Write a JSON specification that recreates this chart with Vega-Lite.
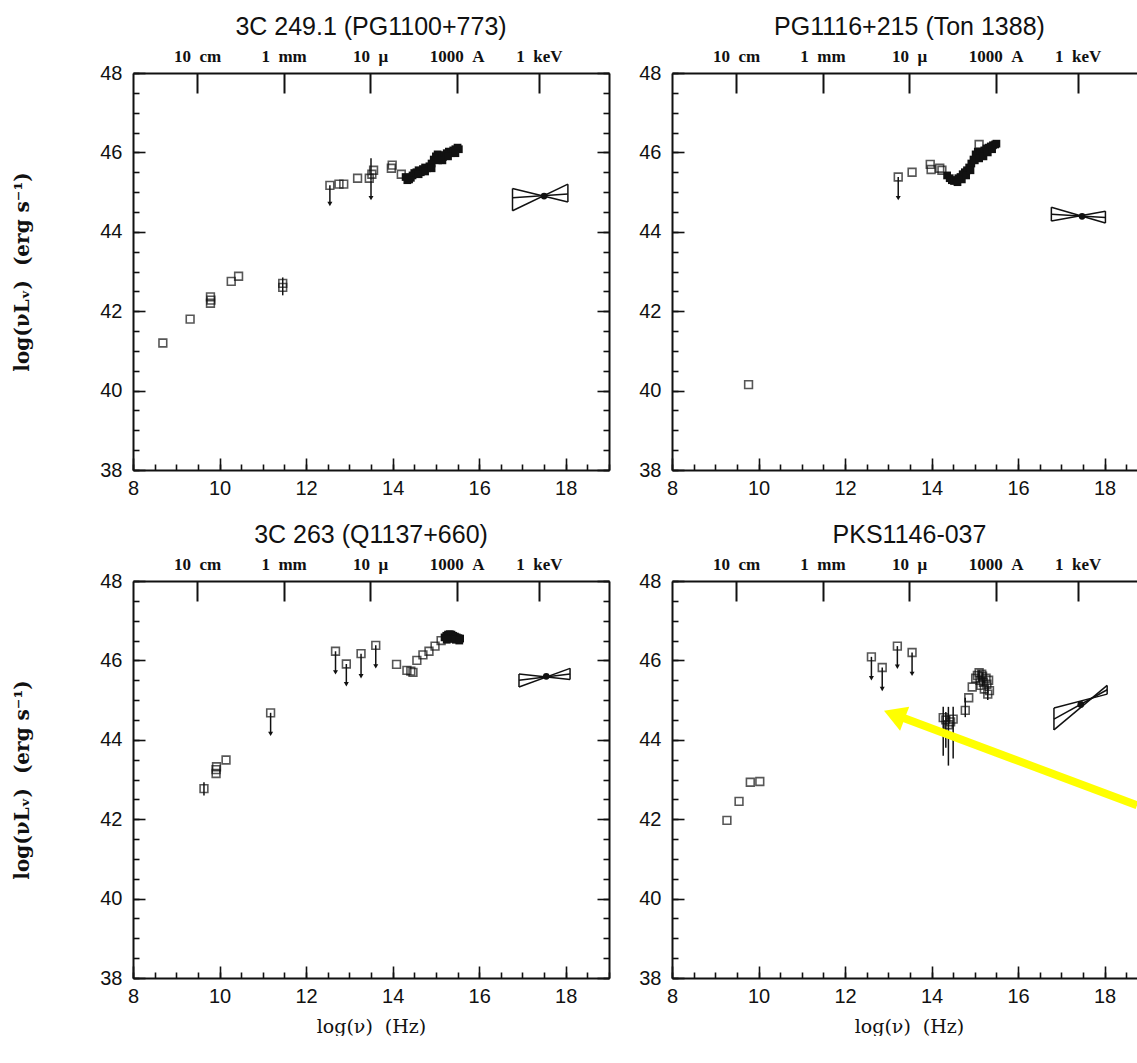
{
"$schema": "https://vega.github.io/schema/vega-lite/v6.json",
"background": "white",
"padding": {"left": 12, "top": 15, "right": 0, "bottom": 0},
"datasets": {
"pts": [
{"p":"A","k":"pt","x":8.69,"y":41.2},{"p":"A","k":"pt","x":9.32,"y":41.8},{"p":"A","k":"pt","x":9.79,"y":42.2},{"p":"A","k":"pt","x":9.8,"y":42.28},{"p":"A","k":"pt","x":9.79,"y":42.36},{"p":"A","k":"pt","x":10.27,"y":42.75},{"p":"A","k":"pt","x":10.44,"y":42.88},{"p":"A","k":"pt","x":11.46,"y":42.6},{"p":"A","k":"pt","x":11.46,"y":42.7},{"p":"A","k":"pt","x":12.55,"y":45.17},{"p":"A","k":"pt","x":12.76,"y":45.2},{"p":"A","k":"pt","x":12.87,"y":45.2},{"p":"A","k":"pt","x":13.19,"y":45.35},{"p":"A","k":"pt","x":13.46,"y":45.35},{"p":"A","k":"pt","x":13.52,"y":45.45},{"p":"A","k":"pt","x":13.56,"y":45.55},{"p":"A","k":"pt","x":13.97,"y":45.6},{"p":"A","k":"pt","x":13.99,"y":45.68},{"p":"A","k":"pt","x":14.2,"y":45.45},
{"p":"A","k":"err","x":11.46,"lo":42.4,"hi":42.85},{"p":"A","k":"err","x":13.5,"lo":45.3,"hi":45.85},{"p":"A","k":"ul","x":12.55,"lo":44.7,"hi":45.17},{"p":"A","k":"ul","x":13.5,"lo":44.85,"hi":45.3},
{"p":"A","k":"band","x":14.3,"y":45.38},{"p":"A","k":"band","x":14.34,"y":45.3},{"p":"A","k":"band","x":14.38,"y":45.32},{"p":"A","k":"band","x":14.42,"y":45.36},{"p":"A","k":"band","x":14.46,"y":45.42},{"p":"A","k":"band","x":14.5,"y":45.48},{"p":"A","k":"band","x":14.55,"y":45.5},{"p":"A","k":"band","x":14.6,"y":45.55},{"p":"A","k":"band","x":14.65,"y":45.5},{"p":"A","k":"band","x":14.7,"y":45.58},{"p":"A","k":"band","x":14.75,"y":45.62},{"p":"A","k":"band","x":14.8,"y":45.6},{"p":"A","k":"band","x":14.85,"y":45.65},{"p":"A","k":"band","x":14.9,"y":45.72},{"p":"A","k":"band","x":14.95,"y":45.82},{"p":"A","k":"band","x":15.0,"y":45.9},{"p":"A","k":"band","x":15.04,"y":45.95},{"p":"A","k":"band","x":15.08,"y":45.93},{"p":"A","k":"band","x":15.12,"y":45.85},{"p":"A","k":"band","x":15.16,"y":45.88},{"p":"A","k":"band","x":15.2,"y":45.92},{"p":"A","k":"band","x":15.25,"y":45.98},{"p":"A","k":"band","x":15.3,"y":46.02},{"p":"A","k":"band","x":15.35,"y":45.98},{"p":"A","k":"band","x":15.4,"y":46.05},{"p":"A","k":"band","x":15.45,"y":46.08},{"p":"A","k":"band","x":15.5,"y":46.12},{"p":"A","k":"band","x":15.53,"y":46.08},{"p":"A","k":"band","x":14.6,"y":45.45},{"p":"A","k":"band","x":14.75,"y":45.52},{"p":"A","k":"band","x":14.9,"y":45.6},{"p":"A","k":"band","x":15.05,"y":45.8},{"p":"A","k":"band","x":15.15,"y":45.8},{"p":"A","k":"band","x":15.28,"y":45.9},{"p":"A","k":"band","x":15.45,"y":45.98},
{"p":"B","k":"pt","x":9.77,"y":40.15},{"p":"B","k":"pt","x":13.23,"y":45.38},{"p":"B","k":"pt","x":13.55,"y":45.5},{"p":"B","k":"pt","x":13.97,"y":45.7},{"p":"B","k":"pt","x":13.99,"y":45.57},{"p":"B","k":"pt","x":14.19,"y":45.6},{"p":"B","k":"pt","x":14.24,"y":45.55},{"p":"B","k":"pt","x":15.1,"y":46.2},
{"p":"B","k":"ul","x":13.23,"lo":44.85,"hi":45.38},
{"p":"B","k":"band","x":14.36,"y":45.42},{"p":"B","k":"band","x":14.42,"y":45.35},{"p":"B","k":"band","x":14.47,"y":45.3},{"p":"B","k":"band","x":14.52,"y":45.28},{"p":"B","k":"band","x":14.57,"y":45.3},{"p":"B","k":"band","x":14.62,"y":45.35},{"p":"B","k":"band","x":14.67,"y":45.38},{"p":"B","k":"band","x":14.72,"y":45.45},{"p":"B","k":"band","x":14.77,"y":45.5},{"p":"B","k":"band","x":14.82,"y":45.55},{"p":"B","k":"band","x":14.87,"y":45.62},{"p":"B","k":"band","x":14.92,"y":45.72},{"p":"B","k":"band","x":14.97,"y":45.82},{"p":"B","k":"band","x":15.02,"y":45.95},{"p":"B","k":"band","x":15.07,"y":46.02},{"p":"B","k":"band","x":15.12,"y":45.98},{"p":"B","k":"band","x":15.17,"y":45.95},{"p":"B","k":"band","x":15.22,"y":46.05},{"p":"B","k":"band","x":15.27,"y":46.1},{"p":"B","k":"band","x":15.32,"y":46.12},{"p":"B","k":"band","x":15.37,"y":46.15},{"p":"B","k":"band","x":15.42,"y":46.18},{"p":"B","k":"band","x":15.47,"y":46.2},{"p":"B","k":"band","x":15.5,"y":46.22},{"p":"B","k":"band","x":14.6,"y":45.25},{"p":"B","k":"band","x":14.7,"y":45.32},{"p":"B","k":"band","x":14.8,"y":45.42},{"p":"B","k":"band","x":14.9,"y":45.55},{"p":"B","k":"band","x":15.0,"y":45.8},{"p":"B","k":"band","x":15.1,"y":45.85},{"p":"B","k":"band","x":15.2,"y":45.9},{"p":"B","k":"band","x":15.3,"y":46.0},{"p":"B","k":"band","x":15.4,"y":46.08},
{"p":"C","k":"pt","x":9.64,"y":42.77},{"p":"C","k":"pt","x":9.92,"y":43.15},{"p":"C","k":"pt","x":9.92,"y":43.25},{"p":"C","k":"pt","x":9.93,"y":43.32},{"p":"C","k":"pt","x":10.15,"y":43.49},{"p":"C","k":"pt","x":11.18,"y":44.68},{"p":"C","k":"pt","x":12.68,"y":46.23},{"p":"C","k":"pt","x":12.93,"y":45.91},{"p":"C","k":"pt","x":13.27,"y":46.17},{"p":"C","k":"pt","x":13.61,"y":46.38},{"p":"C","k":"pt","x":14.09,"y":45.9},{"p":"C","k":"pt","x":14.33,"y":45.75},{"p":"C","k":"pt","x":14.42,"y":45.73},{"p":"C","k":"pt","x":14.47,"y":45.7},{"p":"C","k":"pt","x":14.56,"y":46.0},{"p":"C","k":"pt","x":14.7,"y":46.14},{"p":"C","k":"pt","x":14.84,"y":46.23},{"p":"C","k":"pt","x":14.98,"y":46.36},{"p":"C","k":"pt","x":15.12,"y":46.5},
{"p":"C","k":"err","x":9.64,"lo":42.6,"hi":42.93},{"p":"C","k":"ul","x":11.18,"lo":44.15,"hi":44.68},{"p":"C","k":"ul","x":12.68,"lo":45.7,"hi":46.23},{"p":"C","k":"ul","x":12.93,"lo":45.4,"hi":45.91},{"p":"C","k":"ul","x":13.27,"lo":45.6,"hi":46.17},{"p":"C","k":"ul","x":13.61,"lo":45.85,"hi":46.38},
{"p":"C","k":"band","x":15.2,"y":46.58},{"p":"C","k":"band","x":15.24,"y":46.62},{"p":"C","k":"band","x":15.28,"y":46.65},{"p":"C","k":"band","x":15.32,"y":46.66},{"p":"C","k":"band","x":15.36,"y":46.65},{"p":"C","k":"band","x":15.4,"y":46.62},{"p":"C","k":"band","x":15.44,"y":46.6},{"p":"C","k":"band","x":15.48,"y":46.58},{"p":"C","k":"band","x":15.52,"y":46.56},{"p":"C","k":"band","x":15.56,"y":46.55},{"p":"C","k":"band","x":15.3,"y":46.56},{"p":"C","k":"band","x":15.38,"y":46.54},{"p":"C","k":"band","x":15.46,"y":46.52},{"p":"C","k":"band","x":15.54,"y":46.5},{"p":"C","k":"band","x":15.25,"y":46.52},
{"p":"D","k":"pt","x":9.27,"y":41.97},{"p":"D","k":"pt","x":9.55,"y":42.45},{"p":"D","k":"pt","x":9.81,"y":42.93},{"p":"D","k":"pt","x":10.03,"y":42.95},{"p":"D","k":"pt","x":12.61,"y":46.09},{"p":"D","k":"pt","x":12.86,"y":45.82},{"p":"D","k":"pt","x":13.21,"y":46.36},{"p":"D","k":"pt","x":13.55,"y":46.2},{"p":"D","k":"pt","x":14.27,"y":44.56},{"p":"D","k":"pt","x":14.39,"y":44.38},{"p":"D","k":"pt","x":14.5,"y":44.52},{"p":"D","k":"pt","x":14.33,"y":44.5},{"p":"D","k":"pt","x":14.44,"y":44.45},{"p":"D","k":"pt","x":14.78,"y":44.74},{"p":"D","k":"pt","x":14.86,"y":45.06},{"p":"D","k":"pt","x":14.94,"y":45.33},{"p":"D","k":"pt","x":15.02,"y":45.55},{"p":"D","k":"pt","x":15.1,"y":45.69},{"p":"D","k":"pt","x":15.14,"y":45.37},{"p":"D","k":"pt","x":15.18,"y":45.6},{"p":"D","k":"pt","x":15.22,"y":45.28},{"p":"D","k":"pt","x":15.26,"y":45.55},{"p":"D","k":"pt","x":15.3,"y":45.15},{"p":"D","k":"pt","x":15.34,"y":45.24},{"p":"D","k":"pt","x":15.12,"y":45.5},{"p":"D","k":"pt","x":15.2,"y":45.45},{"p":"D","k":"pt","x":15.28,"y":45.4},{"p":"D","k":"pt","x":15.06,"y":45.62},{"p":"D","k":"pt","x":15.16,"y":45.65},{"p":"D","k":"pt","x":15.32,"y":45.5},
{"p":"D","k":"err","x":14.27,"lo":43.6,"hi":44.83},{"p":"D","k":"err","x":14.39,"lo":43.35,"hi":44.83},{"p":"D","k":"err","x":14.5,"lo":43.53,"hi":44.83},{"p":"D","k":"err","x":14.33,"lo":43.8,"hi":44.7},{"p":"D","k":"err","x":14.78,"lo":44.57,"hi":45.06},{"p":"D","k":"err","x":15.1,"lo":45.45,"hi":45.75},{"p":"D","k":"err","x":15.18,"lo":45.35,"hi":45.7},{"p":"D","k":"err","x":15.3,"lo":45.0,"hi":45.35},
{"p":"D","k":"ul","x":12.61,"lo":45.55,"hi":46.09},{"p":"D","k":"ul","x":12.86,"lo":45.28,"hi":45.82},{"p":"D","k":"ul","x":13.21,"lo":45.84,"hi":46.36},{"p":"D","k":"ul","x":13.55,"lo":45.66,"hi":46.2}
],
"bow": [
{"p":"A","s":1,"x":16.77,"y":44.53},{"p":"A","s":1,"x":18.05,"y":45.2},{"p":"A","s":2,"x":16.77,"y":45.09},{"p":"A","s":2,"x":18.05,"y":44.75},{"p":"A","s":3,"x":16.77,"y":44.53},{"p":"A","s":3,"x":16.77,"y":45.09},{"p":"A","s":4,"x":18.05,"y":44.75},{"p":"A","s":4,"x":18.05,"y":45.2},{"p":"A","s":5,"x":16.77,"y":44.86},{"p":"A","s":5,"x":18.05,"y":44.95},
{"p":"B","s":1,"x":16.77,"y":44.62},{"p":"B","s":1,"x":18.02,"y":44.22},{"p":"B","s":2,"x":16.77,"y":44.27},{"p":"B","s":2,"x":18.02,"y":44.52},{"p":"B","s":3,"x":16.77,"y":44.27},{"p":"B","s":3,"x":16.77,"y":44.62},{"p":"B","s":4,"x":18.02,"y":44.22},{"p":"B","s":4,"x":18.02,"y":44.52},{"p":"B","s":5,"x":16.77,"y":44.44},{"p":"B","s":5,"x":18.02,"y":44.36},
{"p":"C","s":1,"x":16.92,"y":45.33},{"p":"C","s":1,"x":18.1,"y":45.8},{"p":"C","s":2,"x":16.92,"y":45.66},{"p":"C","s":2,"x":18.1,"y":45.52},{"p":"C","s":3,"x":16.92,"y":45.33},{"p":"C","s":3,"x":16.92,"y":45.66},{"p":"C","s":4,"x":18.1,"y":45.52},{"p":"C","s":4,"x":18.1,"y":45.8},{"p":"C","s":5,"x":16.92,"y":45.5},{"p":"C","s":5,"x":18.1,"y":45.66},
{"p":"D","s":1,"x":16.83,"y":44.25},{"p":"D","s":1,"x":18.06,"y":45.37},{"p":"D","s":2,"x":16.83,"y":44.8},{"p":"D","s":2,"x":18.06,"y":45.15},{"p":"D","s":3,"x":16.83,"y":44.25},{"p":"D","s":3,"x":16.83,"y":44.8},{"p":"D","s":4,"x":18.06,"y":45.15},{"p":"D","s":4,"x":18.06,"y":45.37},{"p":"D","s":5,"x":16.83,"y":44.52},{"p":"D","s":5,"x":18.06,"y":45.26}
],
"bc": [{"p":"A","x":17.5,"y":44.9},{"p":"B","x":17.48,"y":44.39},{"p":"C","x":17.55,"y":45.6},{"p":"D","x":17.45,"y":44.89}],
"arr": [{"part":"shaft","x":13.2,"y":44.61},{"part":"shaft","x":18.75,"y":42.35},{"part":"head","x":13.14,"y":44.63}]
},
"columns": 2,
"spacing": {"row": 111, "column": 63},
"bounds": "flush",
"concat": [
{
"width": 476, "height": 397,
"title": {"text": "3C 249.1 (PG1100+773)", "offset": 7},
"resolve": {"axis": {"x": "independent", "y": "independent"}},
"layer": [
{"data": {"name": "pts"}, "transform": [{"filter": "datum.p === 'A' && datum.k === 'pt'"}],
 "mark": {"type": "point", "shape": "square", "filled": false, "size": 60, "strokeWidth": 1.6, "color": "#111"},
 "encoding": {
  "x": {"field": "x", "type": "quantitative", "scale": {"domain": [8, 19], "nice": false, "zero": false},
   "axis": {"orient": "bottom", "values": [8,8.5,9,9.5,10,10.5,11,11.5,12,12.5,13,13.5,14,14.5,15,15.5,16,16.5,17,17.5,18,18.5,19], "tickSize": -6, "labelExpr": "datum.value % 2 === 0 ? '' + datum.value : ''", "labelPadding": 14, "labelBaseline": "top", "title": null}},
  "y": {"field": "y", "type": "quantitative", "scale": {"domain": [38, 48], "nice": false, "zero": false},
   "axis": {"orient": "left", "values": [38,38.5,39,39.5,40,40.5,41,41.5,42,42.5,43,43.5,44,44.5,45,45.5,46,46.5,47,47.5,48], "tickSize": -6, "labelExpr": "datum.value % 2 === 0 ? '' + datum.value : ''", "labelPadding": 17, "title": "log(νLᵥ)\u00a0\u00a0(erg s⁻¹)", "titlePadding": 67}}}},
{"data": {"name": "pts"}, "transform": [{"filter": "datum.p === 'A' && datum.k === 'band'"}],
 "mark": {"type": "point", "shape": "square", "filled": true, "size": 60, "color": "#111", "opacity": 1},
 "encoding": {
  "x": {"field": "x", "type": "quantitative", "scale": {"domain": [8, 19], "nice": false, "zero": false},
   "axis": {"orient": "bottom", "values": [8,10,12,14,16,18], "tickSize": -12, "labels": false, "domain": false, "title": null}},
  "y": {"field": "y", "type": "quantitative", "scale": {"domain": [38, 48], "nice": false, "zero": false},
   "axis": {"orient": "left", "values": [38,40,42,44,46,48], "tickSize": -12, "labels": false, "domain": false, "title": null}}}},
{"data": {"name": "pts"}, "transform": [{"filter": "datum.p === 'A' && (datum.k === 'ul' || datum.k === 'err')"}],
 "mark": {"type": "rule", "color": "#111", "strokeWidth": 1.5},
 "encoding": {
  "x": {"field": "x", "type": "quantitative", "scale": {"domain": [8, 19], "nice": false, "zero": false},
   "axis": {"orient": "top", "values": [9.48,11.48,13.48,15.48,17.38], "ticks": true, "tickSize": -20, "tickWidth": 2, "tickColor": "#111", "zindex": 2, "labelExpr": "datum.value < 10 ? '10\u00a0\u00a0cm' : datum.value < 12 ? '1\u00a0\u00a0mm' : datum.value < 14 ? '10\u00a0\u00a0μ' : datum.value < 16 ? '1000\u00a0\u00a0A' : '1\u00a0\u00a0keV'", "labelFont": "Liberation Serif", "labelFontWeight": "bold", "labelFontSize": 17, "labelBaseline": "alphabetic", "labelPadding": 32, "title": null}},
  "y": {"field": "lo", "type": "quantitative", "scale": {"domain": [38, 48], "nice": false, "zero": false},
   "axis": {"orient": "right", "values": [38,38.5,39,39.5,40,40.5,41,41.5,42,42.5,43,43.5,44,44.5,45,45.5,46,46.5,47,47.5,48], "tickSize": -6, "labels": false, "title": null}},
  "y2": {"field": "hi"}}},
{"data": {"name": "pts"}, "transform": [{"filter": "datum.p === 'A' && datum.k === 'ul'"}],
 "mark": {"type": "point", "shape": "triangle-down", "filled": true, "size": 25, "color": "#111", "opacity": 1},
 "encoding": {
  "x": {"field": "x", "type": "quantitative", "scale": {"domain": [8, 19], "nice": false, "zero": false}, "axis": null},
  "y": {"field": "lo", "type": "quantitative", "scale": {"domain": [38, 48], "nice": false, "zero": false},
   "axis": {"orient": "right", "values": [38,40,42,44,46,48], "tickSize": -12, "labels": false, "domain": false, "title": null}}}},
{"data": {"name": "bow"}, "transform": [{"filter": "datum.p === 'A'"}],
 "mark": {"type": "line", "color": "#111", "strokeWidth": 1.5},
 "encoding": {
  "x": {"field": "x", "type": "quantitative", "scale": {"domain": [8, 19], "nice": false, "zero": false}, "axis": null},
  "y": {"field": "y", "type": "quantitative", "scale": {"domain": [38, 48], "nice": false, "zero": false}, "axis": null},
  "detail": {"field": "s", "type": "nominal"}}},
{"data": {"name": "bc"}, "transform": [{"filter": "datum.p === 'A'"}],
 "mark": {"type": "point", "shape": "circle", "filled": true, "size": 45, "color": "#111", "opacity": 1},
 "encoding": {
  "x": {"field": "x", "type": "quantitative", "scale": {"domain": [8, 19], "nice": false, "zero": false}, "axis": null},
  "y": {"field": "y", "type": "quantitative", "scale": {"domain": [38, 48], "nice": false, "zero": false}, "axis": null}}}
]
},
{
"width": 465, "height": 397,
"title": {"text": "PG1116+215 (Ton 1388)", "offset": 7, "dx": 5},
"resolve": {"axis": {"x": "independent", "y": "independent"}},
"layer": [
{"data": {"name": "pts"}, "transform": [{"filter": "datum.p === 'B' && datum.k === 'pt'"}],
 "mark": {"type": "point", "shape": "square", "filled": false, "size": 60, "strokeWidth": 1.6, "color": "#111"},
 "encoding": {
  "x": {"field": "x", "type": "quantitative", "scale": {"domain": [8, 18.75], "nice": false, "zero": false},
   "axis": {"orient": "bottom", "values": [8,8.5,9,9.5,10,10.5,11,11.5,12,12.5,13,13.5,14,14.5,15,15.5,16,16.5,17,17.5,18,18.5], "tickSize": -6, "labelExpr": "datum.value % 2 === 0 ? '' + datum.value : ''", "labelPadding": 14, "labelBaseline": "top", "title": null}},
  "y": {"field": "y", "type": "quantitative", "scale": {"domain": [38, 48], "nice": false, "zero": false},
   "axis": {"orient": "left", "values": [38,38.5,39,39.5,40,40.5,41,41.5,42,42.5,43,43.5,44,44.5,45,45.5,46,46.5,47,47.5,48], "tickSize": -6, "labelExpr": "datum.value % 2 === 0 ? '' + datum.value : ''", "labelPadding": 17, "title": null}}}},
{"data": {"name": "pts"}, "transform": [{"filter": "datum.p === 'B' && datum.k === 'band'"}],
 "mark": {"type": "point", "shape": "square", "filled": true, "size": 60, "color": "#111", "opacity": 1},
 "encoding": {
  "x": {"field": "x", "type": "quantitative", "scale": {"domain": [8, 18.75], "nice": false, "zero": false},
   "axis": {"orient": "bottom", "values": [8,10,12,14,16,18], "tickSize": -12, "labels": false, "domain": false, "title": null}},
  "y": {"field": "y", "type": "quantitative", "scale": {"domain": [38, 48], "nice": false, "zero": false},
   "axis": {"orient": "left", "values": [38,40,42,44,46,48], "tickSize": -12, "labels": false, "domain": false, "title": null}}}},
{"data": {"name": "pts"}, "transform": [{"filter": "datum.p === 'B' && (datum.k === 'ul' || datum.k === 'err')"}],
 "mark": {"type": "rule", "color": "#111", "strokeWidth": 1.5},
 "encoding": {
  "x": {"field": "x", "type": "quantitative", "scale": {"domain": [8, 18.75], "nice": false, "zero": false},
   "axis": {"orient": "top", "values": [9.48,11.48,13.48,15.48,17.38], "ticks": true, "tickSize": -20, "tickWidth": 2, "tickColor": "#111", "zindex": 2, "labelExpr": "datum.value < 10 ? '10\u00a0\u00a0cm' : datum.value < 12 ? '1\u00a0\u00a0mm' : datum.value < 14 ? '10\u00a0\u00a0μ' : datum.value < 16 ? '1000\u00a0\u00a0A' : '1\u00a0\u00a0keV'", "labelFont": "Liberation Serif", "labelFontWeight": "bold", "labelFontSize": 17, "labelBaseline": "alphabetic", "labelPadding": 32, "title": null}},
  "y": {"field": "lo", "type": "quantitative", "scale": {"domain": [38, 48], "nice": false, "zero": false}, "axis": null},
  "y2": {"field": "hi"}}},
{"data": {"name": "pts"}, "transform": [{"filter": "datum.p === 'B' && datum.k === 'ul'"}],
 "mark": {"type": "point", "shape": "triangle-down", "filled": true, "size": 25, "color": "#111", "opacity": 1},
 "encoding": {
  "x": {"field": "x", "type": "quantitative", "scale": {"domain": [8, 18.75], "nice": false, "zero": false}, "axis": null},
  "y": {"field": "lo", "type": "quantitative", "scale": {"domain": [38, 48], "nice": false, "zero": false}, "axis": null}}},
{"data": {"name": "bow"}, "transform": [{"filter": "datum.p === 'B'"}],
 "mark": {"type": "line", "color": "#111", "strokeWidth": 1.5},
 "encoding": {
  "x": {"field": "x", "type": "quantitative", "scale": {"domain": [8, 18.75], "nice": false, "zero": false}, "axis": null},
  "y": {"field": "y", "type": "quantitative", "scale": {"domain": [38, 48], "nice": false, "zero": false}, "axis": null},
  "detail": {"field": "s", "type": "nominal"}}},
{"data": {"name": "bc"}, "transform": [{"filter": "datum.p === 'B'"}],
 "mark": {"type": "point", "shape": "circle", "filled": true, "size": 45, "color": "#111", "opacity": 1},
 "encoding": {
  "x": {"field": "x", "type": "quantitative", "scale": {"domain": [8, 18.75], "nice": false, "zero": false}, "axis": null},
  "y": {"field": "y", "type": "quantitative", "scale": {"domain": [38, 48], "nice": false, "zero": false}, "axis": null}}}
]
},
{
"width": 476, "height": 397,
"title": {"text": "3C 263 (Q1137+660)", "offset": 7},
"resolve": {"axis": {"x": "independent", "y": "independent"}},
"layer": [
{"data": {"name": "pts"}, "transform": [{"filter": "datum.p === 'C' && datum.k === 'pt'"}],
 "mark": {"type": "point", "shape": "square", "filled": false, "size": 60, "strokeWidth": 1.6, "color": "#111"},
 "encoding": {
  "x": {"field": "x", "type": "quantitative", "scale": {"domain": [8, 19], "nice": false, "zero": false},
   "axis": {"orient": "bottom", "values": [8,8.5,9,9.5,10,10.5,11,11.5,12,12.5,13,13.5,14,14.5,15,15.5,16,16.5,17,17.5,18,18.5,19], "tickSize": -6, "labelExpr": "datum.value % 2 === 0 ? '' + datum.value : ''", "labelPadding": 14, "labelBaseline": "top", "title": "log(ν)\u00a0\u00a0(Hz)", "titleFont": "DejaVu Serif", "titleFontWeight": "normal", "titleFontSize": 19, "titlePadding": 11}},
  "y": {"field": "y", "type": "quantitative", "scale": {"domain": [38, 48], "nice": false, "zero": false},
   "axis": {"orient": "left", "values": [38,38.5,39,39.5,40,40.5,41,41.5,42,42.5,43,43.5,44,44.5,45,45.5,46,46.5,47,47.5,48], "tickSize": -6, "labelExpr": "datum.value % 2 === 0 ? '' + datum.value : ''", "labelPadding": 17, "title": "log(νLᵥ)\u00a0\u00a0(erg s⁻¹)", "titlePadding": 67}}}},
{"data": {"name": "pts"}, "transform": [{"filter": "datum.p === 'C' && datum.k === 'band'"}],
 "mark": {"type": "point", "shape": "square", "filled": true, "size": 60, "color": "#111", "opacity": 1},
 "encoding": {
  "x": {"field": "x", "type": "quantitative", "scale": {"domain": [8, 19], "nice": false, "zero": false},
   "axis": {"orient": "bottom", "values": [8,10,12,14,16,18], "tickSize": -12, "labels": false, "domain": false, "title": null}},
  "y": {"field": "y", "type": "quantitative", "scale": {"domain": [38, 48], "nice": false, "zero": false},
   "axis": {"orient": "left", "values": [38,40,42,44,46,48], "tickSize": -12, "labels": false, "domain": false, "title": null}}}},
{"data": {"name": "pts"}, "transform": [{"filter": "datum.p === 'C' && (datum.k === 'ul' || datum.k === 'err')"}],
 "mark": {"type": "rule", "color": "#111", "strokeWidth": 1.5},
 "encoding": {
  "x": {"field": "x", "type": "quantitative", "scale": {"domain": [8, 19], "nice": false, "zero": false},
   "axis": {"orient": "top", "values": [9.48,11.48,13.48,15.48,17.38], "ticks": true, "tickSize": -20, "tickWidth": 2, "tickColor": "#111", "zindex": 2, "labelExpr": "datum.value < 10 ? '10\u00a0\u00a0cm' : datum.value < 12 ? '1\u00a0\u00a0mm' : datum.value < 14 ? '10\u00a0\u00a0μ' : datum.value < 16 ? '1000\u00a0\u00a0A' : '1\u00a0\u00a0keV'", "labelFont": "Liberation Serif", "labelFontWeight": "bold", "labelFontSize": 17, "labelBaseline": "alphabetic", "labelPadding": 32, "title": null}},
  "y": {"field": "lo", "type": "quantitative", "scale": {"domain": [38, 48], "nice": false, "zero": false},
   "axis": {"orient": "right", "values": [38,38.5,39,39.5,40,40.5,41,41.5,42,42.5,43,43.5,44,44.5,45,45.5,46,46.5,47,47.5,48], "tickSize": -6, "labels": false, "title": null}},
  "y2": {"field": "hi"}}},
{"data": {"name": "pts"}, "transform": [{"filter": "datum.p === 'C' && datum.k === 'ul'"}],
 "mark": {"type": "point", "shape": "triangle-down", "filled": true, "size": 25, "color": "#111", "opacity": 1},
 "encoding": {
  "x": {"field": "x", "type": "quantitative", "scale": {"domain": [8, 19], "nice": false, "zero": false}, "axis": null},
  "y": {"field": "lo", "type": "quantitative", "scale": {"domain": [38, 48], "nice": false, "zero": false},
   "axis": {"orient": "right", "values": [38,40,42,44,46,48], "tickSize": -12, "labels": false, "domain": false, "title": null}}}},
{"data": {"name": "bow"}, "transform": [{"filter": "datum.p === 'C'"}],
 "mark": {"type": "line", "color": "#111", "strokeWidth": 1.5},
 "encoding": {
  "x": {"field": "x", "type": "quantitative", "scale": {"domain": [8, 19], "nice": false, "zero": false}, "axis": null},
  "y": {"field": "y", "type": "quantitative", "scale": {"domain": [38, 48], "nice": false, "zero": false}, "axis": null},
  "detail": {"field": "s", "type": "nominal"}}},
{"data": {"name": "bc"}, "transform": [{"filter": "datum.p === 'C'"}],
 "mark": {"type": "point", "shape": "circle", "filled": true, "size": 45, "color": "#111", "opacity": 1},
 "encoding": {
  "x": {"field": "x", "type": "quantitative", "scale": {"domain": [8, 19], "nice": false, "zero": false}, "axis": null},
  "y": {"field": "y", "type": "quantitative", "scale": {"domain": [38, 48], "nice": false, "zero": false}, "axis": null}}}
]
},
{
"width": 465, "height": 397,
"title": {"text": "PKS1146-037", "offset": 7, "dx": 5},
"resolve": {"axis": {"x": "independent", "y": "independent"}},
"layer": [
{"data": {"name": "pts"}, "transform": [{"filter": "datum.p === 'D' && datum.k === 'pt'"}],
 "mark": {"type": "point", "shape": "square", "filled": false, "size": 60, "strokeWidth": 1.6, "color": "#111"},
 "encoding": {
  "x": {"field": "x", "type": "quantitative", "scale": {"domain": [8, 18.75], "nice": false, "zero": false},
   "axis": {"orient": "bottom", "values": [8,8.5,9,9.5,10,10.5,11,11.5,12,12.5,13,13.5,14,14.5,15,15.5,16,16.5,17,17.5,18,18.5], "tickSize": -6, "labelExpr": "datum.value % 2 === 0 ? '' + datum.value : ''", "labelPadding": 14, "labelBaseline": "top", "title": "log(ν)\u00a0\u00a0(Hz)", "titleFont": "DejaVu Serif", "titleFontWeight": "normal", "titleFontSize": 19, "titlePadding": 11, "titleX": 237}},
  "y": {"field": "y", "type": "quantitative", "scale": {"domain": [38, 48], "nice": false, "zero": false},
   "axis": {"orient": "left", "values": [38,38.5,39,39.5,40,40.5,41,41.5,42,42.5,43,43.5,44,44.5,45,45.5,46,46.5,47,47.5,48], "tickSize": -6, "labelExpr": "datum.value % 2 === 0 ? '' + datum.value : ''", "labelPadding": 17, "title": null}}}},
{"data": {"name": "pts"}, "transform": [{"filter": "datum.p === 'D' && datum.k === 'band'"}],
 "mark": {"type": "point", "shape": "square", "filled": true, "size": 60, "color": "#111", "opacity": 1},
 "encoding": {
  "x": {"field": "x", "type": "quantitative", "scale": {"domain": [8, 18.75], "nice": false, "zero": false},
   "axis": {"orient": "bottom", "values": [8,10,12,14,16,18], "tickSize": -12, "labels": false, "domain": false, "title": null}},
  "y": {"field": "y", "type": "quantitative", "scale": {"domain": [38, 48], "nice": false, "zero": false},
   "axis": {"orient": "left", "values": [38,40,42,44,46,48], "tickSize": -12, "labels": false, "domain": false, "title": null}}}},
{"data": {"name": "pts"}, "transform": [{"filter": "datum.p === 'D' && (datum.k === 'ul' || datum.k === 'err')"}],
 "mark": {"type": "rule", "color": "#111", "strokeWidth": 1.5},
 "encoding": {
  "x": {"field": "x", "type": "quantitative", "scale": {"domain": [8, 18.75], "nice": false, "zero": false},
   "axis": {"orient": "top", "values": [9.48,11.48,13.48,15.48,17.38], "ticks": true, "tickSize": -20, "tickWidth": 2, "tickColor": "#111", "zindex": 2, "labelExpr": "datum.value < 10 ? '10\u00a0\u00a0cm' : datum.value < 12 ? '1\u00a0\u00a0mm' : datum.value < 14 ? '10\u00a0\u00a0μ' : datum.value < 16 ? '1000\u00a0\u00a0A' : '1\u00a0\u00a0keV'", "labelFont": "Liberation Serif", "labelFontWeight": "bold", "labelFontSize": 17, "labelBaseline": "alphabetic", "labelPadding": 32, "title": null}},
  "y": {"field": "lo", "type": "quantitative", "scale": {"domain": [38, 48], "nice": false, "zero": false}, "axis": null},
  "y2": {"field": "hi"}}},
{"data": {"name": "pts"}, "transform": [{"filter": "datum.p === 'D' && datum.k === 'ul'"}],
 "mark": {"type": "point", "shape": "triangle-down", "filled": true, "size": 25, "color": "#111", "opacity": 1},
 "encoding": {
  "x": {"field": "x", "type": "quantitative", "scale": {"domain": [8, 18.75], "nice": false, "zero": false}, "axis": null},
  "y": {"field": "lo", "type": "quantitative", "scale": {"domain": [38, 48], "nice": false, "zero": false}, "axis": null}}},
{"data": {"name": "bow"}, "transform": [{"filter": "datum.p === 'D'"}],
 "mark": {"type": "line", "color": "#111", "strokeWidth": 1.5},
 "encoding": {
  "x": {"field": "x", "type": "quantitative", "scale": {"domain": [8, 18.75], "nice": false, "zero": false}, "axis": null},
  "y": {"field": "y", "type": "quantitative", "scale": {"domain": [38, 48], "nice": false, "zero": false}, "axis": null},
  "detail": {"field": "s", "type": "nominal"}}},
{"data": {"name": "bc"}, "transform": [{"filter": "datum.p === 'D'"}],
 "mark": {"type": "point", "shape": "circle", "filled": true, "size": 45, "color": "#111", "opacity": 1},
 "encoding": {
  "x": {"field": "x", "type": "quantitative", "scale": {"domain": [8, 18.75], "nice": false, "zero": false}, "axis": null},
  "y": {"field": "y", "type": "quantitative", "scale": {"domain": [38, 48], "nice": false, "zero": false}, "axis": null}}},
{"data": {"name": "arr"}, "transform": [{"filter": "datum.part === 'shaft'"}],
 "mark": {"type": "line", "color": "#ffff00", "strokeWidth": 8, "clip": true},
 "encoding": {
  "x": {"field": "x", "type": "quantitative", "scale": {"domain": [8, 18.75], "nice": false, "zero": false}, "axis": null},
  "y": {"field": "y", "type": "quantitative", "scale": {"domain": [38, 48], "nice": false, "zero": false}, "axis": null}}},
{"data": {"name": "arr"}, "transform": [{"filter": "datum.part === 'head'"}],
 "mark": {"type": "point", "shape": "triangle-up", "filled": true, "size": 650, "angle": 291, "color": "#ffff00", "opacity": 1},
 "encoding": {
  "x": {"field": "x", "type": "quantitative", "scale": {"domain": [8, 18.75], "nice": false, "zero": false}, "axis": null},
  "y": {"field": "y", "type": "quantitative", "scale": {"domain": [38, 48], "nice": false, "zero": false}, "axis": null}}}
]
}
],
"config": {
 "view": {"stroke": null},
 "axis": {"grid": false, "domainColor": "#111", "domainWidth": 2, "tickColor": "#111", "tickWidth": 1.6, "labelFont": "Liberation Sans", "labelFontSize": 20, "labelColor": "#111", "labelFlush": false, "labelOverlap": false, "titleFont": "DejaVu Serif", "titleFontWeight": "bold", "titleFontSize": 20, "titleColor": "#111"},
 "title": {"font": "Liberation Sans", "fontSize": 25, "fontWeight": "normal", "color": "#111", "anchor": "middle", "frame": "group"}
}
}
